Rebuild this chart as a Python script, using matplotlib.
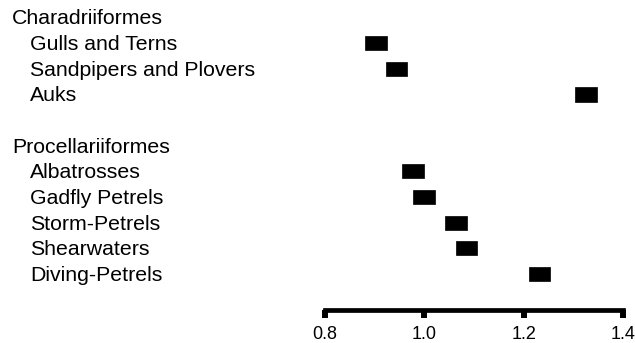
import matplotlib
matplotlib.use("Agg")
import matplotlib.pyplot as plt
import matplotlib.transforms as mtransforms

# Row layout: group headers and the families beneath them
groups = ["Charadriiformes", "Procellariiformes"]
families = [
    ["Gulls and Terns", "Sandpipers and Plovers", "Auks"],
    ["Albatrosses", "Gadfly Petrels", "Storm-Petrels", "Shearwaters", "Diving-Petrels"],
]
values = [
    [0.902, 0.944, 1.326],
    [0.977, 1.000, 1.063, 1.085, 1.232],
]
x_ticks = [0.8, 1.0, 1.2, 1.4]
x_tick_labels = ["0.8", "1.0", "1.2", "1.4"]

plt.rcParams["font.family"] = ["Liberation Sans", "DejaVu Sans"]

W, H, DPI = 635, 343, 100
fig = plt.figure(figsize=(W / DPI, H / DPI), dpi=DPI)

row_px = 25.65
first_row_px = 17.5
axis_px = 310
left_px, right_px = 325, 623

ax = fig.add_axes([left_px / W, (H - axis_px) / H,
                   (right_px - left_px) / W, axis_px / H])
ax.set_xlim(0.8, 1.4)
ax.set_ylim((axis_px - first_row_px) / row_px, -first_row_px / row_px)

label_trans = mtransforms.blended_transform_factory(fig.transFigure, ax.transData)
label_trans = mtransforms.offset_copy(label_trans, fig=fig, y=-7, units="dots")

box_w = 0.044
box_h = 0.55
row = 0
for g, fams, vals in zip(groups, families, values):
    ax.text(12 / W, row, g, transform=label_trans, ha="left", va="baseline",
            fontsize=15.3, clip_on=False)
    row += 1
    for name, v in zip(fams, vals):
        ax.text(30 / W, row, name, transform=label_trans, ha="left", va="baseline",
                fontsize=15.3, clip_on=False)
        ax.barh(row, box_w, left=v - box_w / 2, height=box_h, color="black",
                edgecolor="black", linewidth=0.5)
        row += 1
    row += 1

for side in ["top", "right", "left"]:
    ax.spines[side].set_visible(False)
ax.spines["bottom"].set_linewidth(3.4)
ax.spines["bottom"].set_capstyle("projecting")
ax.set_yticks([])
ax.set_xticks(x_ticks)
ax.set_xticklabels(x_tick_labels, fontsize=13)
ax.tick_params(axis="x", direction="out", length=5.8, width=4.3, pad=5.5)

fig.savefig("out.png", dpi=DPI)
